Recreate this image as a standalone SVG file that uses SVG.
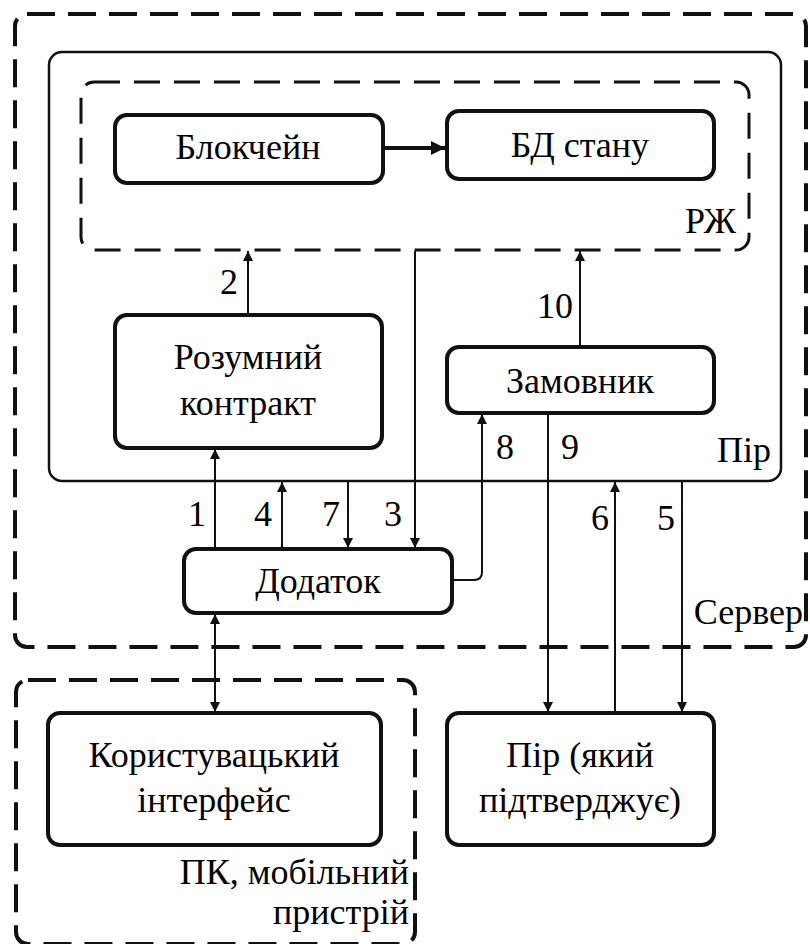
<svg xmlns="http://www.w3.org/2000/svg" width="810" height="944" viewBox="0 0 810 944">
<defs>
<marker id="a" viewBox="0 0 10 10" refX="10" refY="5" markerWidth="10" markerHeight="10" markerUnits="userSpaceOnUse" orient="auto-start-reverse">
<path d="M0,0 L10,5 L0,10 z" fill="#111"/>
</marker>
<marker id="ab" viewBox="0 0 10 10" refX="10" refY="5" markerWidth="14" markerHeight="14" markerUnits="userSpaceOnUse" orient="auto">
<path d="M0,0 L10,5 L0,10 z" fill="#111"/>
</marker>
</defs>
<g id="server">
<rect fill="none" stroke="#111" stroke-width="4" stroke-dasharray="28 13" x="15" y="14" width="791" height="633" rx="12"/>
<text x="803" y="624" font-size="36" style="font-family:'Liberation Serif',serif !important" text-anchor="end">Сервер</text>
</g>
<g id="pc">
<rect fill="none" stroke="#111" stroke-width="4" stroke-dasharray="28 13" x="16" y="680" width="399" height="264" rx="12"/>
<text x="409" y="884" font-size="36" style="font-family:'Liberation Serif',serif !important" text-anchor="end">ПК, мобільний</text>
<text x="409" y="924" font-size="36" style="font-family:'Liberation Serif',serif !important" text-anchor="end">пристрій</text>
</g>
<g id="peer">
<rect fill="none" stroke="#111" stroke-width="2.5" x="49" y="52" width="732" height="429" rx="13"/>
<text x="771" y="462" font-size="36" style="font-family:'Liberation Serif',serif !important" text-anchor="end">Пір</text>
</g>
<g id="ledger">
<rect fill="none" stroke="#111" stroke-width="3" stroke-dasharray="26 14" x="81" y="82" width="668" height="168" rx="13"/>
<text x="736" y="233" font-size="36" style="font-family:'Liberation Serif',serif !important" text-anchor="end">РЖ</text>
</g>
<g id="blockchain">
<rect fill="#fff" stroke="#111" stroke-width="4" x="115" y="115" width="268" height="68" rx="12"/>
<text x="248" y="159" font-size="36" style="font-family:'Liberation Serif',serif !important" text-anchor="middle">Блокчейн</text>
</g>
<g id="statedb">
<rect fill="#fff" stroke="#111" stroke-width="4" x="447" y="111" width="267" height="68" rx="12"/>
<text x="580" y="157" font-size="36" style="font-family:'Liberation Serif',serif !important" text-anchor="middle">БД стану</text>
</g>
<g id="contract">
<rect fill="#fff" stroke="#111" stroke-width="4" x="115" y="315" width="267" height="133" rx="12"/>
<text x="248" y="369" font-size="36" style="font-family:'Liberation Serif',serif !important" text-anchor="middle">Розумний</text>
<text x="248" y="415" font-size="36" style="font-family:'Liberation Serif',serif !important" text-anchor="middle">контракт</text>
</g>
<g id="client">
<rect fill="#fff" stroke="#111" stroke-width="4" x="447" y="347" width="267" height="66" rx="12"/>
<text x="580" y="393" font-size="36" style="font-family:'Liberation Serif',serif !important" text-anchor="middle">Замовник</text>
</g>
<g id="app">
<rect fill="#fff" stroke="#111" stroke-width="4" x="184" y="549" width="268" height="64" rx="12"/>
<text x="318" y="593" font-size="36" style="font-family:'Liberation Serif',serif !important" text-anchor="middle">Додаток</text>
</g>
<g id="ui">
<rect fill="#fff" stroke="#111" stroke-width="4" x="48" y="713" width="333" height="132" rx="12"/>
<text x="214" y="767" font-size="36" style="font-family:'Liberation Serif',serif !important" text-anchor="middle">Користувацький</text>
<text x="214" y="812" font-size="36" style="font-family:'Liberation Serif',serif !important" text-anchor="middle">інтерфейс</text>
</g>
<g id="endorser">
<rect fill="#fff" stroke="#111" stroke-width="4" x="447" y="713" width="267" height="132" rx="12"/>
<text x="580" y="767" font-size="36" style="font-family:'Liberation Serif',serif !important" text-anchor="middle">Пір (який</text>
<text x="580" y="812" font-size="36" style="font-family:'Liberation Serif',serif !important" text-anchor="middle">підтверджує)</text>
</g>
<g id="connectors" fill="none" stroke="#111" stroke-width="2">
<line x1="385" y1="148" x2="445" y2="148" stroke-width="4" marker-end="url(#ab)"/>
<line x1="248" y1="315" x2="248" y2="251" marker-end="url(#a)"/>
<line x1="580" y1="347" x2="580" y2="251" marker-end="url(#a)"/>
<line x1="415" y1="251" x2="415" y2="548" marker-end="url(#a)"/>
<line x1="215" y1="549" x2="215" y2="449" marker-end="url(#a)"/>
<line x1="282" y1="549" x2="282" y2="482" marker-end="url(#a)"/>
<line x1="348" y1="481" x2="348" y2="548" marker-end="url(#a)"/>
<path d="M452,580 L474,580 Q482,580 482,572 L482,414" marker-end="url(#a)"/>
<line x1="548" y1="413" x2="548" y2="712" marker-end="url(#a)"/>
<line x1="615" y1="713" x2="615" y2="482" marker-end="url(#a)"/>
<line x1="682" y1="481" x2="682" y2="712" marker-end="url(#a)"/>
<line x1="215" y1="614" x2="215" y2="712" marker-start="url(#a)" marker-end="url(#a)"/>
</g>
<g id="labels">
<text x="229" y="294" font-size="36" style="font-family:'Liberation Serif',serif !important" text-anchor="middle">2</text>
<text x="555" y="318" font-size="36" style="font-family:'Liberation Serif',serif !important" text-anchor="middle">10</text>
<text x="197" y="526" font-size="36" style="font-family:'Liberation Serif',serif !important" text-anchor="middle">1</text>
<text x="263" y="526" font-size="36" style="font-family:'Liberation Serif',serif !important" text-anchor="middle">4</text>
<text x="331" y="526" font-size="36" style="font-family:'Liberation Serif',serif !important" text-anchor="middle">7</text>
<text x="393" y="526" font-size="36" style="font-family:'Liberation Serif',serif !important" text-anchor="middle">3</text>
<text x="505" y="459" font-size="36" style="font-family:'Liberation Serif',serif !important" text-anchor="middle">8</text>
<text x="570" y="459" font-size="36" style="font-family:'Liberation Serif',serif !important" text-anchor="middle">9</text>
<text x="600" y="530" font-size="36" style="font-family:'Liberation Serif',serif !important" text-anchor="middle">6</text>
<text x="666" y="530" font-size="36" style="font-family:'Liberation Serif',serif !important" text-anchor="middle">5</text>
</g>
</svg>
